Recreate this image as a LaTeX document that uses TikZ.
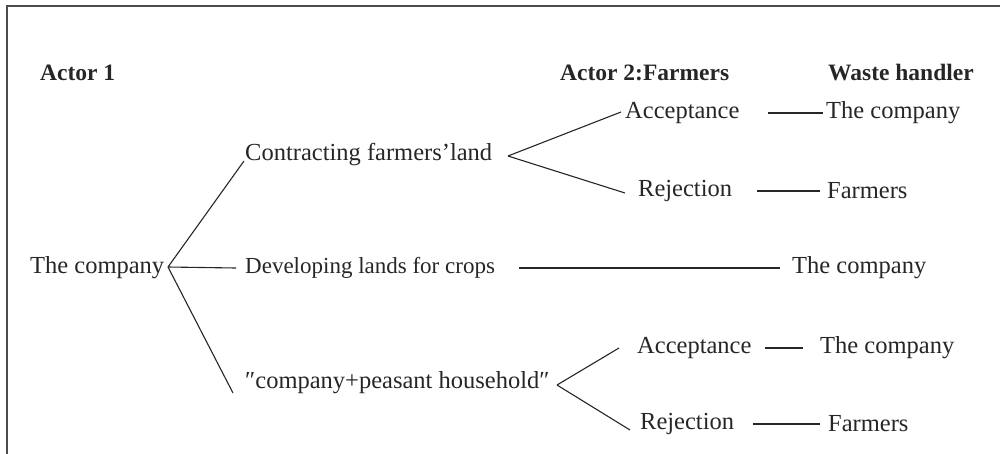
\documentclass[tikz,border=0pt]{standalone}
\usepackage{fontspec}
\setmainfont{Liberation Serif}
\begin{document}
\begin{tikzpicture}[x=1pt,y=-1pt,
  lbl/.style={anchor=west,inner sep=0pt,font=\fontsize{24.5}{28}\selectfont,text=black!85},
  hdr/.style={lbl,font=\fontsize{23.5}{28}\selectfont\bfseries},
  conn/.style={draw=black!85,line width=1.1pt}]
\useasboundingbox (0,0) rectangle (1000,453);
\begin{scope}
\clip (0,0) rectangle (1000,453);
\draw[line width=1.6pt,draw=black!70] (7,6) rectangle (1020,470);
\end{scope}
% headers
\node[hdr] (h1) at (40,73) {Actor 1};
\node[hdr] (h2) at (560,73) {Actor 2:Farmers};
\node[hdr] (h3) at (828,73) {Waste handler};
% actor 1
\node[lbl] (root) at (30,268) {The company};
% actor 1 strategies
\node[lbl] (s1) at (245,155) {Contracting farmers’land};
\node[lbl,font=\fontsize{23}{28}\selectfont] (s2) at (245,268) {Developing lands for crops};
\node[lbl] (s3) at (245,383) {″company+peasant household″};
% farmers
\node[lbl] (a1) at (625,113) {Acceptance};
\node[lbl] (r1) at (638,191) {Rejection};
\node[lbl] (a2) at (637,348) {Acceptance};
\node[lbl] (r2) at (640,424) {Rejection};
% waste handlers
\node[lbl] (w1) at (826,113) {The company};
\node[lbl] (w2) at (827,191) {Farmers};
\node[lbl] (w3) at (792,268) {The company};
\node[lbl] (w4) at (820,348) {The company};
\node[lbl] (w5) at (828,424) {Farmers};
% apex coordinates
\coordinate (ra) at (168,267);
\coordinate (c1) at (508,156);
\coordinate (c3) at (557,385);
% root connectors
\draw[conn] (ra) -- ([xshift=-1pt,yshift=-6pt]s1.west);
\draw[conn] (ra) -- ([xshift=-9pt]s2.west);
\draw[conn] (ra) -- ([xshift=-12pt,yshift=-10pt]s3.west);
% contracting branches
\draw[conn] (c1) -- ([xshift=-4pt,yshift=1pt]a1.west);
\draw[conn] (c1) -- ([xshift=-13pt,yshift=-2pt]r1.west);
% household branches
\draw[conn] (c3) -- ([xshift=-18pt]a2.west);
\draw[conn] (c3) -- ([xshift=-10pt,yshift=-6pt]r2.west);
% waste connectors
\draw[conn] ([xshift=28pt]a1.east) -- ([xshift=-3pt]w1.west);
\draw[conn] ([xshift=25pt]r1.east) -- ([xshift=-7pt]w2.west);
\draw[conn] ([xshift=24pt]s2.east) -- ([xshift=-12pt]w3.west);
\draw[conn] ([xshift=13pt]a2.east) -- ([xshift=-17pt]w4.west);
\draw[conn] ([xshift=19pt]r2.east) -- ([xshift=-8pt]w5.west);
\end{tikzpicture}
\end{document}
